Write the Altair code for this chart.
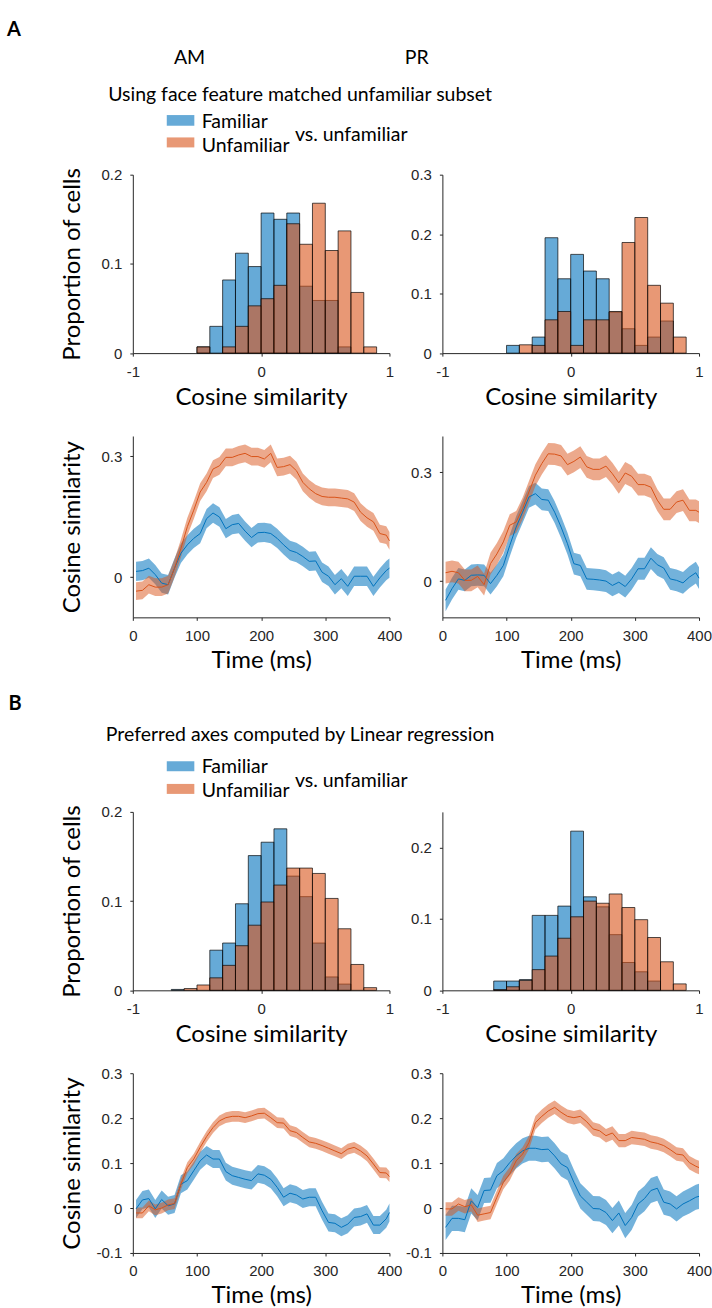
import altair as alt
import pandas as pd

# ---------------- data ----------------
BINS = [-0.7, -0.6, -0.5, -0.4, -0.3, -0.2, -0.1, 0.0, 0.1, 0.2, 0.3, 0.4, 0.5, 0.6, 0.7, 0.8]
BIN_W = 0.1

A_AM_HIST_FAM = [0, 0, 0.007, 0.030, 0.082, 0.112, 0.097, 0.157, 0.150, 0.157, 0.075, 0.059, 0.059, 0.007, 0, 0]
A_AM_HIST_UNF = [0, 0, 0.007, 0, 0.007, 0.030, 0.053, 0.061, 0.076, 0.145, 0.122, 0.168, 0.115, 0.137, 0.068, 0.007]
A_PR_HIST_FAM = [0, 0, 0.013, 0, 0.027, 0.194, 0.125, 0.166, 0.138, 0.125, 0.069, 0.041, 0.013, 0.027, 0.054, 0]
A_PR_HIST_UNF = [0, 0, 0, 0.014, 0.013, 0.056, 0.070, 0.013, 0.056, 0.056, 0.070, 0.186, 0.228, 0.114, 0.084, 0.027]
B_AM_HIST_FAM = [0.001, 0, 0, 0.045, 0.053, 0.097, 0.151, 0.166, 0.181, 0.128, 0.105, 0.053, 0.015, 0.007, 0, 0]
B_AM_HIST_UNF = [0, 0.002, 0.006, 0.014, 0.028, 0.050, 0.073, 0.099, 0.118, 0.137, 0.137, 0.131, 0.103, 0.069, 0.029, 0.003]
B_PR_HIST_FAM = [0, 0.013, 0.013, 0.015, 0.105, 0.105, 0.118, 0.223, 0.131, 0.117, 0.078, 0.039, 0.026, 0.013, 0, 0]
B_PR_HIST_UNF = [0, 0.001, 0.005, 0.014, 0.029, 0.048, 0.073, 0.103, 0.125, 0.122, 0.135, 0.116, 0.099, 0.074, 0.040, 0.009]

TIME = [5, 15, 25, 35, 45, 55, 65, 75, 85, 95, 105, 115, 125, 135, 145, 155, 165, 175, 185, 195,
        205, 215, 225, 235, 245, 255, 265, 275, 285, 295, 305, 315, 325, 335, 345, 355, 365, 375, 385, 395, 400]

A_AM_UNF = [-0.035, -0.033, -0.019, -0.025, -0.025, -0.019, 0.022, 0.071, 0.125, 0.166,
            0.211, 0.235, 0.268, 0.276, 0.297, 0.297, 0.303, 0.307, 0.299, 0.299,
            0.293, 0.307, 0.272, 0.274, 0.279, 0.264, 0.235, 0.219, 0.207, 0.200,
            0.198, 0.198, 0.196, 0.194, 0.186, 0.161, 0.147, 0.137, 0.108, 0.104, 0.090]
A_AM_FAM = [0.014, 0.016, 0.022, 0.006, -0.015, -0.019, 0.022, 0.059, 0.080, 0.096,
            0.108, 0.145, 0.159, 0.149, 0.120, 0.130, 0.133, 0.114, 0.098, 0.110,
            0.111, 0.108, 0.096, 0.080, 0.066, 0.061, 0.051, 0.039, 0.040, 0.012,
            0.002, -0.019, -0.004, -0.023, 0.002, 0.002, 0.002, -0.023, -0.002, 0.016, 0.022]
A_PR_UNF = [0.023, 0.027, 0.023, 0.002, 0.002, 0.013, -0.010, 0.048, 0.075, 0.108,
            0.154, 0.163, 0.200, 0.246, 0.292, 0.324, 0.351, 0.350, 0.345, 0.321,
            0.330, 0.342, 0.315, 0.308, 0.308, 0.317, 0.296, 0.271, 0.298, 0.289,
            0.266, 0.266, 0.259, 0.223, 0.198, 0.198, 0.218, 0.223, 0.195, 0.195, 0.190]
A_PR_FAM = [-0.053, -0.021, 0.006, 0.002, 0.016, 0.017, 0.016, -0.007, 0.016, 0.043,
            0.098, 0.149, 0.190, 0.232, 0.241, 0.225, 0.223, 0.190, 0.149, 0.103,
            0.048, 0.043, 0.006, 0.005, 0.003, 0.000, -0.012, -0.003, -0.015, 0.006,
            0.034, 0.034, 0.063, 0.045, 0.036, 0.006, 0.002, -0.005, 0.011, 0.023, 0.008]
B_AM_UNF = [-0.011, -0.011, 0.005, -0.004, 0.000, 0.007, 0.010, 0.053, 0.090, 0.109,
            0.135, 0.159, 0.179, 0.194, 0.201, 0.204, 0.204, 0.201, 0.205, 0.210,
            0.211, 0.201, 0.190, 0.189, 0.172, 0.168, 0.157, 0.147, 0.144, 0.139,
            0.133, 0.127, 0.121, 0.131, 0.135, 0.127, 0.116, 0.098, 0.079, 0.078, 0.070]
B_AM_FAM = [-0.002, 0.018, 0.021, -0.002, 0.019, 0.005, 0.009, 0.053, 0.061, 0.083,
            0.105, 0.118, 0.109, 0.109, 0.081, 0.072, 0.068, 0.064, 0.061, 0.076,
            0.073, 0.064, 0.046, 0.024, 0.033, 0.029, 0.020, 0.024, 0.024, -0.006,
            -0.032, -0.034, -0.043, -0.036, -0.021, -0.019, -0.013, -0.038, -0.038, -0.024, -0.010]
B_PR_UNF = [-0.002, -0.002, 0.009, 0.003, 0.007, -0.016, -0.013, -0.010, 0.024, 0.057,
            0.076, 0.105, 0.120, 0.146, 0.190, 0.204, 0.216, 0.224, 0.213, 0.204,
            0.201, 0.204, 0.192, 0.176, 0.172, 0.161, 0.167, 0.150, 0.150, 0.157,
            0.155, 0.153, 0.147, 0.144, 0.139, 0.130, 0.120, 0.118, 0.101, 0.093, 0.090]
B_PR_FAM = [-0.043, -0.023, -0.023, -0.026, 0.016, 0.001, 0.039, 0.040, 0.072, 0.083,
            0.101, 0.116, 0.127, 0.133, 0.133, 0.130, 0.131, 0.116, 0.098, 0.090,
            0.057, 0.027, 0.013, -0.001, -0.002, -0.010, -0.028, -0.011, -0.039, -0.021,
            0.009, 0.021, 0.039, 0.044, 0.013, 0.009, -0.002, 0.009, 0.016, 0.024, 0.026]

# half-width of the shaded error bands
ERR = {"A_AM": (0.024, 0.022), "A_PR": (0.030, 0.030), "B_AM": (0.020, 0.012), "B_PR": (0.028, 0.015)}

HIST_TICKS_X = [-1, 0, 1]
TIME_TICKS = [0, 100, 200, 300, 400]

# ---------------- style ----------------
BLUE = "#0072BD"
ORANGE = "#D95319"
INK = "#262626"
TFONT = "Lato"
NFONT = "Liberation Sans"
PW = 257
HH = 178.7
LH_A = 181.6
LH_B = 180
HDR = 19.5
ROW_GAP = 82.7
SPACER_H = 28.3

LABEL_EXPR = "datum.value < 0 ? '-' + format(-datum.value, '') : format(datum.value, '')"


def x_axis(values, title, ty):
    return alt.Axis(values=values, title=title, titleX=PW / 2, titleY=ty, titleAlign="center",
                    titleBaseline="alphabetic", titleAngle=0, labelFlush=False, labelExpr=LABEL_EXPR)


def y_axis(values, title, h):
    if title:
        return alt.Axis(values=values, labelExpr=LABEL_EXPR, title=title, titleX=-53, titleY=h / 2,
                        titleAngle=270, titleAlign="center", titleBaseline="alphabetic")
    return alt.Axis(values=values, labelExpr=LABEL_EXPR, title=None)


ONE = alt.Data(values=[{"k": 0}])


def txt(s, x, y, size=HDR, align="left", weight="normal"):
    return alt.Chart(ONE).mark_text(text=s, font=TFONT, fontSize=size, fontWeight=weight, align=align,
                                    baseline="alphabetic", color="black").encode(x=alt.value(x), y=alt.value(y))


def box(x1, x2, y1, y2, color, op):
    return alt.Chart(ONE).mark_rect(fill=color, opacity=op).encode(
        x=alt.value(x1), x2=alt.value(x2), y=alt.value(y1), y2=alt.value(y2))


def header(letter, lx, ly, title, ty, fam_y, unf_y, vs_y, sw_b, sw_o, cols=None):
    layers = [txt(letter, lx, ly, 20, weight="bold"),
              txt(title, 167.5, ty, align="center"),
              box(34, 61.6, sw_b[0], sw_b[1], BLUE, 0.6),
              box(34, 61.6, sw_o[0], sw_o[1], ORANGE, 0.6),
              txt("Familiar", 69, fam_y),
              txt("Unfamiliar", 69, unf_y),
              txt("vs. unfamiliar", 162.3, vs_y)]
    if cols:
        layers += [txt("AM", 56.8, cols, align="center"), txt("PR", 284.3, cols, align="center")]
    return layers


def hist_panel(fam, unf, ymax, yticks, ytitle, extra=()):
    df = pd.DataFrame({"lo": BINS, "hi": [b + BIN_W for b in BINS], "fam": fam, "unf": unf})
    xs = alt.Scale(domain=[-1, 1], nice=False, zero=False)
    ys = alt.Scale(domain=[0, ymax], nice=False)
    xa = x_axis(HIST_TICKS_X, "Cosine similarity", 51)
    ya = y_axis(yticks, ytitle, HH)

    def bars(field, color):
        return alt.Chart(df).transform_filter(f"datum.{field} > 0").mark_rect(
            fill=color, fillOpacity=0.6, stroke="black", strokeWidth=0.8, strokeOpacity=0.85
        ).encode(x=alt.X("lo:Q", scale=xs, axis=xa), x2="hi:Q",
                 y=alt.Y(f"{field}:Q", scale=ys, axis=ya), y2=alt.datum(0))

    return alt.layer(bars("fam", BLUE), bars("unf", ORANGE), *extra).properties(width=PW, height=HH)


def line_panel(fam, unf, err, ydom, yticks, ytitle, h):
    ef, eu = err
    df = pd.DataFrame({"t": TIME, "fam": fam, "unf": unf})
    df["fam_lo"] = df["fam"] - ef
    df["fam_hi"] = df["fam"] + ef
    df["unf_lo"] = df["unf"] - eu
    df["unf_hi"] = df["unf"] + eu
    xs = alt.Scale(domain=[0, 400], nice=False, zero=False)
    ys = alt.Scale(domain=ydom, nice=False, zero=False)
    xa = x_axis(TIME_TICKS, "Time (ms)", 50)
    ya = y_axis(yticks, ytitle, h)
    X = alt.X("t:Q", scale=xs, axis=xa)

    def Y(f):
        return alt.Y(f"{f}:Q", scale=ys, axis=ya)

    base = alt.Chart(df)
    band_f = base.mark_area(color=BLUE, opacity=0.55).encode(x=X, y=Y("fam_lo"), y2="fam_hi:Q")
    band_u = base.mark_area(color=ORANGE, opacity=0.5).encode(x=X, y=Y("unf_lo"), y2="unf_hi:Q")
    line_f = base.mark_line(color=BLUE, strokeWidth=1).encode(x=X, y=Y("fam"))
    line_u = base.mark_line(color=ORANGE, strokeWidth=1).encode(x=X, y=Y("unf"))
    return alt.layer(band_f, band_u, line_f, line_u).properties(width=PW, height=h)


def spacer():
    return alt.Chart(ONE).mark_point(opacity=0).encode(
        x=alt.value(0), y=alt.value(0)).properties(width=PW, height=SPACER_H)


anchor = box(-132.7, -131.7, -174, -173, "white", 1)
hdrA = header("A", -126, -139, "Using face feature matched unfamiliar subset", -74,
              -46.5, -23, -34, (-59.7, -49), (-37.3, -27.3), cols=-110.7)
hdrB = header("B", -124.4, -101.7, "Preferred axes computed by Linear regression", -71.2,
              -38.7, -14.7, -24.7, (-50.7, -40.7), (-28, -18))

hA_AM = hist_panel(A_AM_HIST_FAM, A_AM_HIST_UNF, 0.2, [0, 0.1, 0.2], "Proportion of cells", [anchor] + hdrA)
hA_PR = hist_panel(A_PR_HIST_FAM, A_PR_HIST_UNF, 0.3, [0, 0.1, 0.2, 0.3], None)
lA_AM = line_panel(A_AM_FAM, A_AM_UNF, ERR["A_AM"], [-0.1, 0.35], [0, 0.3], "Cosine similarity", LH_A)
lA_PR = line_panel(A_PR_FAM, A_PR_UNF, ERR["A_PR"], [-0.1, 0.4], [0, 0.3], None, LH_A)

hB_AM = hist_panel(B_AM_HIST_FAM, B_AM_HIST_UNF, 0.2, [0, 0.1, 0.2], "Proportion of cells", hdrB)
hB_PR = hist_panel(B_PR_HIST_FAM, B_PR_HIST_UNF, 0.25, [0, 0.1, 0.2], None)
lB_AM = line_panel(B_AM_FAM, B_AM_UNF, ERR["B_AM"], [-0.1, 0.3], [-0.1, 0, 0.1, 0.2, 0.3], "Cosine similarity", LH_B)
lB_PR = line_panel(B_PR_FAM, B_PR_UNF, ERR["B_PR"], [-0.1, 0.3], [-0.1, 0, 0.1, 0.2, 0.3], None, LH_B)

chart = alt.concat(
    hA_AM, hA_PR, lA_AM, lA_PR, spacer(), spacer(), hB_AM, hB_PR, lB_AM, lB_PR,
    columns=2, spacing={"row": ROW_GAP, "column": 53}, bounds="flush"
).properties(
    padding=0, background="white"
).configure_view(stroke=None).configure_axis(
    domainColor=INK, domainWidth=1, tickColor=INK, tickSize=3, tickWidth=1,
    labelFont=NFONT, labelFontSize=15, labelColor=INK, labelPadding=8,
    titleFont=TFONT, titleFontSize=24, titleFontWeight="normal", titleColor="black", grid=False
)

chart.save("out.html", embed_options={"renderer": "svg", "actions": False})
